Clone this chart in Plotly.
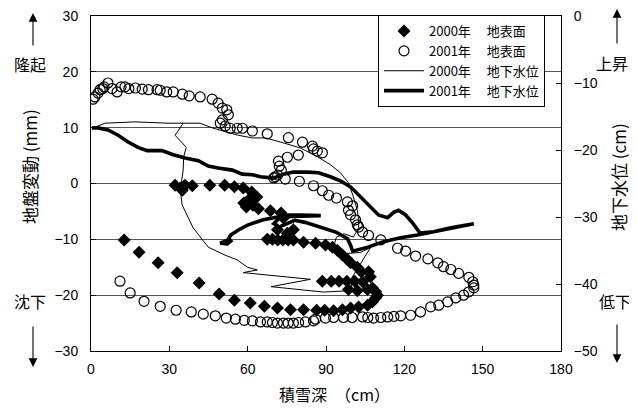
import plotly.graph_objects as go

# ---------------- data ----------------
dia2000_x = [32.2, 34.2, 35.0, 36.0, 38.8, 45.5, 51.2, 54.9, 58.3, 61.5, 63.5, 60.2, 58.5, 59.5, 62.0,
             64.1, 68.7, 72.8, 73.7, 71.4, 75.2, 77.5, 67.5, 69.5, 71.5, 73.5, 75.5, 77.5, 81.4, 86.0,
             89.8, 92.5, 94.4, 96.3, 98.2, 99.4, 102.0, 103.5, 106.3, 107.0, 104.0, 101.0, 98.0, 95.0,
             92.0, 88.6, 98.6, 102.0, 105.9, 107.8, 109.0, 109.7, 109.0, 107.8, 105.9, 102.5, 99.4, 96.3,
             92.9, 89.5, 86.4, 81.4, 76.4, 71.4, 66.4, 61.0, 54.9, 49.1, 41.4, 33.0, 25.7, 18.4, 12.7]
dia2000_y = [-0.3, -0.8, -1.2, -0.3, -0.4, -0.3, -0.3, -0.6, -0.8, -1.5, -2.4, -3.0, -3.5, -4.2, -3.9,
             -4.5, -4.9, -5.3, -6.2, -8.3, -8.9, -8.3, -10.0, -10.0, -10.1, -10.1, -10.1, -10.1, -10.5, -10.7,
             -11.0, -11.4, -12.0, -12.8, -13.6, -14.2, -15.0, -15.8, -15.8, -16.7, -17.6, -17.5, -17.5, -17.5,
             -17.5, -17.5, -19.0, -19.2, -19.0, -18.7, -19.4, -20.0, -20.5, -21.2, -21.8, -22.1, -22.3, -22.6,
             -22.8, -22.7, -22.7, -22.6, -22.6, -22.3, -22.0, -21.4, -20.9, -19.8, -17.8, -16.0, -14.2, -12.3, -10.1]

circ2001_x = [0.8, 1.5, 2.7, 3.5, 5.0, 6.5, 4.5, 8.0, 10.0, 11.5, 13.0, 14.5, 17.0, 19.6, 22.0, 25.3, 26.5,
              29.0, 31.5, 35.0, 37.6, 41.8, 46.4, 48.7, 50.3, 52.0, 52.6, 50.3, 49.5, 51.4, 53.3, 56.0, 58.0,
              61.8, 67.5, 75.6, 81.0, 84.8, 85.2, 86.7, 88.6, 79.4, 75.2, 71.8, 72.1, 72.9, 70.6, 70.0, 71.5,
              74.4, 79.8, 85.2, 88.6, 91.0, 94.0, 98.2, 100.2, 98.6, 99.4, 101.3, 102.0, 102.5, 104.0, 106.3,
              111.0, 117.4, 120.5, 124.3, 129.0, 132.8, 135.0, 137.8, 140.8, 144.7, 146.2, 146.6, 146.6, 144.7,
              142.7, 139.7, 136.6, 133.2, 130.1, 126.2, 122.4, 118.6, 116.0, 113.6, 111.0, 108.2, 106.0, 104.0,
              100.0, 96.7, 92.9, 89.8, 86.0, 85.2, 82.1, 79.5, 77.5, 75.5, 73.7, 71.4, 69.5, 67.5, 64.9, 61.8,
              58.7, 55.3, 51.8, 47.6, 43.0, 38.4, 32.6, 26.5, 20.3, 15.0, 11.1]
circ2001_y = [15.1, 15.5, 16.2, 16.8, 17.3, 18.0, 17.0, 17.0, 16.4, 17.3, 17.3, 17.0, 17.1, 16.9, 16.8, 16.8, 16.7,
              16.4, 16.4, 16.0, 15.7, 15.5, 15.1, 14.4, 13.5, 13.2, 12.3, 11.4, 10.8, 10.3, 9.9, 9.9, 9.9,
              9.4, 8.9, 8.2, 7.4, 6.7, 6.2, 5.8, 5.5, 5.1, 4.7, 4.0, 3.1, 2.4, 1.2, 1.0, 1.5,
              0.8, 0.4, -0.4, -1.3, -2.1, -2.6, -3.3, -4.0, -4.8, -5.6, -6.5, -7.4, -7.8, -8.7, -9.3,
              -10.1, -11.6, -12.1, -13.0, -13.5, -14.2, -14.9, -15.4, -16.1, -16.8, -17.6, -18.2, -18.7, -19.4,
              -20.0, -20.5, -21.2, -21.8, -22.1, -23.0, -23.6, -23.7, -23.8, -23.9, -24.0, -24.1, -24.0, -23.9,
              -24.0, -24.0, -24.0, -24.1, -24.3, -24.6, -24.8, -24.9, -25.0, -25.0, -25.0, -25.0, -24.9, -24.8, -24.8, -24.6,
              -24.5, -24.3, -24.1, -23.7, -23.4, -23.0, -22.7, -22.0, -21.1, -19.6, -17.5]

gw2000_x = [0.0, 1.5, 5.4, 16.9, 29.5, 41.8, 46.4, 51.4, 56.4, 61.8, 66.8, 72.5, 80.2, 86.7, 91.7, 95.5,
            98.6, 100.5, 102.0, 102.5, 102.5, 100.5, 97.0, 94.0, 93.0, 96.0, 103.0, 107.0, 104.0, 100.0,
            99.5, 89.0, 69.0, 84.0, 58.3, 63.7, 59.9, 56.0, 51.4, 44.9, 39.1, 34.9, 34.2, 35.3, 35.5,
            36.5, 32.2, 35.0, 35.0]
gw2000_y = [-16.7, -16.6, -16.0, -15.8, -16.0, -16.0, -16.7, -17.3, -17.8, -18.2, -18.2, -18.8, -19.7, -21.0, -22.2, -23.4,
            -24.9, -27.0, -29.0, -30.4, -31.6, -33.0, -32.5, -33.0, -34.3, -35.5, -35.3, -34.6, -36.5, -39.0,
            -41.0, -41.2, -40.4, -39.3, -38.3, -37.9, -37.5, -36.4, -35.7, -34.5, -31.6, -28.2, -26.0, -23.0, -21.0,
            -19.6, -17.8, -16.2, -15.9]

gw2001_x = [0.4, 2.7, 6.5, 10.4, 14.2, 18.0, 21.5, 27.2, 31.5, 36.1, 41.1, 44.9, 48.7, 54.1, 57.9, 61.8,
            64.9, 69.8, 73.7, 77.5, 82.9, 87.1, 91.7, 95.5, 99.4, 103.2, 107.0, 110.1, 113.6, 115.9, 117.8,
            120.5, 123.2, 126.0, 131.2, 137.8, 146.6, 137.8, 131.2, 125.0, 118.6, 112.0, 106.0, 102.0, 100.2,
            99.4, 98.2, 94.0, 88.0, 82.0, 78.0, 75.0, 72.0, 70.0, 72.0, 77.0, 83.0, 88.0, 80.0, 76.0, 71.5,
            66.0, 60.0, 56.6, 53.5, 52.5, 49.5, 52.2, 54.1]
gw2001_y = [-16.7, -16.7, -17.0, -17.8, -18.8, -19.6, -20.1, -20.1, -20.7, -21.2, -21.6, -22.4, -22.7, -23.0, -23.6, -23.7,
            -24.0, -24.2, -23.6, -23.3, -23.3, -23.4, -24.0, -24.6, -25.5, -27.0, -28.5, -29.7, -30.1, -29.3, -29.0,
            -29.7, -30.9, -32.4, -32.2, -31.6, -31.0, -31.7, -32.3, -32.7, -33.1, -33.7, -34.5, -34.9, -35.1,
            -34.2, -33.2, -32.3, -31.5, -30.8, -30.5, -31.0, -31.5, -31.0, -30.2, -29.9, -29.8, -29.8, -29.7, -29.7, -30.0,
            -30.4, -31.2, -31.9, -32.7, -33.4, -33.9, -34.0, -33.4]

names = ["2000年　 地表面", "2001年　 地表面", "2000年　 地下水位", "2001年　 地下水位"]
x_ticks = [0, 30, 60, 90, 120, 150, 180]
yl_ticks = [-30, -20, -10, 0, 10, 20, 30]
yr_ticks = [-50, -40, -30, -20, -10, 0]

# ---------------- layout helpers ----------------
# the page body has an 8px margin, so the figure is drawn 8px in from the window corner
OFF = 8
W, H = 637 - OFF, 410 - OFF
L, R, T, B = 91, 561, 16, 351   # plot-area edges in window pixels


def px(xp):
    return (xp - L) / (R - L)


def py(yp):
    return (B - yp) / (B - T)


FONT = "Liberation Sans, Arial, Noto Sans CJK JP, sans-serif"
JFONT = "Noto Sans CJK JP, sans-serif"

fig = go.Figure()
fig.add_trace(go.Scatter(x=dia2000_x, y=dia2000_y, mode="markers", name=names[0],
                         marker=dict(symbol="diamond", size=10, color="black"), yaxis="y"))
fig.add_trace(go.Scatter(x=circ2001_x, y=circ2001_y, mode="markers", name=names[1],
                         marker=dict(symbol="circle-open", size=10, color="black",
                                     line=dict(width=1.2, color="black")), yaxis="y"))
fig.add_trace(go.Scatter(x=gw2000_x, y=gw2000_y, mode="lines", name=names[2],
                         line=dict(color="black", width=1), yaxis="y2"))
fig.add_trace(go.Scatter(x=gw2001_x, y=gw2001_y, mode="lines", name=names[3],
                         line=dict(color="black", width=3.6), yaxis="y2"))

axis_common = dict(showline=True, linecolor="black", linewidth=1, ticks="inside", ticklen=5,
                   tickcolor="black", zeroline=False, automargin=False, ticklabeloverflow="allow",
                   tickfont=dict(size=14, family=FONT, color="black"))

fig.update_layout(
    width=W, height=H,
    margin=dict(l=L - OFF, r=W - (R - OFF), t=T - OFF, b=H - (B - OFF), pad=0, autoexpand=False),
    paper_bgcolor="white", plot_bgcolor="white",
    showlegend=True,
    legend=dict(x=px(545), y=py(15), xanchor="right", yanchor="top",
                bgcolor="white", bordercolor="black", borderwidth=1,
                font=dict(size=13, family=JFONT, color="black"),
                tracegroupgap=0, itemwidth=40),
    xaxis=dict(range=[0, 180], tickvals=x_ticks, showgrid=False, mirror=True,
               ticklabelstandoff=5, **axis_common),
    yaxis=dict(range=[-30, 30], tickvals=yl_ticks, showgrid=True, gridcolor="#555555", gridwidth=1,
               ticklabelstandoff=9, **axis_common),
    yaxis2=dict(range=[-50, 0], tickvals=yr_ticks, overlaying="y", side="right", showgrid=False,
                ticklabelstandoff=9, **axis_common),
)

ann = []
# axis titles
ann.append(dict(text="地盤変動 (mm)", x=px(29), y=py(167), textangle=-90, size=17))
ann.append(dict(text="地下水位 (cm)", x=px(618), y=py(177), textangle=-90, size=17))
ann.append(dict(text="積雪深　（cm）", x=px(334), y=py(394), size=16))
# direction words
ann.append(dict(text="隆起", x=px(30), y=py(64), size=16))
ann.append(dict(text="沈下", x=px(30), y=py(301), size=16))
ann.append(dict(text="上昇", x=px(612), y=py(63), size=16))
ann.append(dict(text="低下", x=px(615), y=py(301), size=16))
for a in ann:
    s = a.pop("size")
    a.update(xref="paper", yref="paper", showarrow=False, xanchor="center", yanchor="middle",
             font=dict(size=s, family=JFONT, color="black"))

arrows = [(33, 13, 33, 47), (33, 367, 33, 325), (617, 9, 617, 45), (617, 363, 617, 323)]
for hx, hy, tx, ty in arrows:
    ann.append(dict(x=px(hx), y=py(hy), ax=tx - hx, ay=ty - hy, xref="paper", yref="paper",
                    axref="pixel", ayref="pixel", showarrow=True, arrowhead=2, arrowsize=1.6,
                    arrowwidth=1.1, arrowcolor="black", text=""))
fig.update_layout(annotations=ann)

fig.write_html("out.html")
